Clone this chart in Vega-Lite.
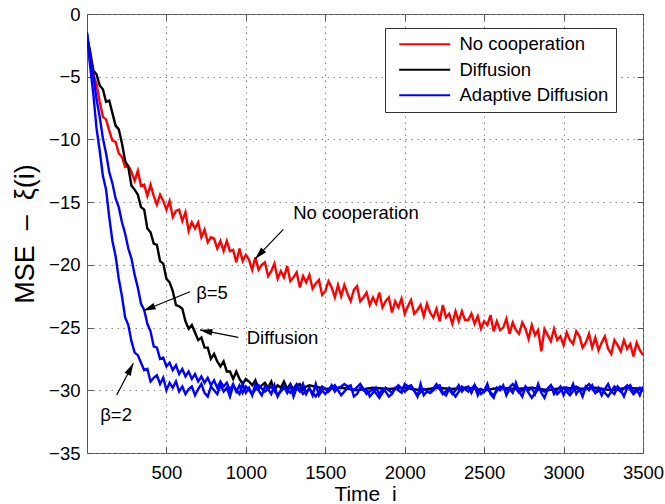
{
"$schema": "https://vega.github.io/schema/vega-lite/v6.json",
"width": 556, "height": 439,
"autosize": {"type": "none"},
"padding": {"left": 87, "top": 14, "right": 22, "bottom": 51},
"background": "white",
"config": {
  "font": "Liberation Sans",
  "view": {"stroke": "#555", "strokeWidth": 1},
  "axis": {"domain": false, "tickSize": -6, "tickColor": "#555", "tickWidth": 1, "labelFontSize": 18.5, "labelColor": "#000", "labelFont": "Liberation Sans", "titleFont": "Liberation Sans", "titleFontWeight": "normal", "titleColor": "#000", "labelFlush": false, "gridColor": "#888", "gridDash": [1.5, 4.5], "gridWidth": 1, "gridOpacity": 1}
},
"datasets": {
  "notes": [
    {"t": "No cooperation", "x": 1693, "y": -15.87},
    {"t": "Diffusion", "x": 1231, "y": -25.83},
    {"t": "β=5", "x": 787, "y": -22.24},
    {"t": "β=2", "x": 183, "y": -31.97}
  ],
  "arrows": [
    {"a": "nc", "x": 1236, "y": -17.17, "x2": 1058, "y2": -19.53},
    {"a": "b5", "x": 648, "y": -22.14, "x2": 354, "y2": -23.66},
    {"a": "df", "x": 952, "y": -25.78, "x2": 711, "y2": -25.19},
    {"a": "b2", "x": 187, "y": -30.38, "x2": 292, "y2": -27.85}
  ]
},
"data": {"values": [
{"s":"r","x":0,"y":-1.8},{"s":"r","x":20,"y":-3.9},{"s":"r","x":40,"y":-4.8},{"s":"r","x":60,"y":-5.6},{"s":"r","x":80,"y":-7.0},{"s":"r","x":100,"y":-8.2},{"s":"r","x":120,"y":-8.4},{"s":"r","x":140,"y":-9.3},{"s":"r","x":160,"y":-10.1},{"s":"r","x":180,"y":-10.2},{"s":"r","x":200,"y":-11.1},{"s":"r","x":220,"y":-11.4},{"s":"r","x":240,"y":-12.2},{"s":"r","x":260,"y":-12.1},{"s":"r","x":280,"y":-12.6},{"s":"r","x":300,"y":-13.3},{"s":"r","x":320,"y":-12.5},{"s":"r","x":340,"y":-13.7},{"s":"r","x":360,"y":-13.6},{"s":"r","x":380,"y":-14.5},{"s":"r","x":400,"y":-13.6},{"s":"r","x":420,"y":-14.5},{"s":"r","x":440,"y":-15.2},{"s":"r","x":460,"y":-14.4},{"s":"r","x":480,"y":-14.9},{"s":"r","x":500,"y":-15.6},{"s":"r","x":520,"y":-14.9},{"s":"r","x":540,"y":-16.2},{"s":"r","x":560,"y":-15.7},{"s":"r","x":580,"y":-15.6},{"s":"r","x":600,"y":-16.5},{"s":"r","x":620,"y":-15.8},{"s":"r","x":640,"y":-17.3},{"s":"r","x":660,"y":-16.6},{"s":"r","x":680,"y":-17.1},{"s":"r","x":700,"y":-16.6},{"s":"r","x":720,"y":-17.8},{"s":"r","x":740,"y":-17.2},{"s":"r","x":760,"y":-18.2},{"s":"r","x":780,"y":-17.8},{"s":"r","x":800,"y":-17.9},{"s":"r","x":820,"y":-18.7},{"s":"r","x":840,"y":-18.1},{"s":"r","x":860,"y":-18.9},{"s":"r","x":880,"y":-18.1},{"s":"r","x":900,"y":-18.9},{"s":"r","x":920,"y":-18.8},{"s":"r","x":940,"y":-19.8},{"s":"r","x":960,"y":-18.7},{"s":"r","x":980,"y":-19.7},{"s":"r","x":1000,"y":-19.2},{"s":"r","x":1020,"y":-19.6},{"s":"r","x":1040,"y":-20.4},{"s":"r","x":1060,"y":-19.4},{"s":"r","x":1080,"y":-20.4},{"s":"r","x":1100,"y":-20.0},{"s":"r","x":1120,"y":-19.8},{"s":"r","x":1140,"y":-20.9},{"s":"r","x":1160,"y":-20.5},{"s":"r","x":1180,"y":-19.9},{"s":"r","x":1200,"y":-21.1},{"s":"r","x":1220,"y":-20.5},{"s":"r","x":1240,"y":-21.0},{"s":"r","x":1260,"y":-20.1},{"s":"r","x":1280,"y":-21.3},{"s":"r","x":1300,"y":-21.0},{"s":"r","x":1320,"y":-20.6},{"s":"r","x":1340,"y":-21.8},{"s":"r","x":1360,"y":-20.9},{"s":"r","x":1380,"y":-21.4},{"s":"r","x":1400,"y":-20.8},{"s":"r","x":1420,"y":-21.9},{"s":"r","x":1440,"y":-21.5},{"s":"r","x":1460,"y":-21.2},{"s":"r","x":1480,"y":-22.4},{"s":"r","x":1500,"y":-22.1},{"s":"r","x":1520,"y":-21.3},{"s":"r","x":1540,"y":-21.8},{"s":"r","x":1560,"y":-22.6},{"s":"r","x":1580,"y":-21.6},{"s":"r","x":1600,"y":-22.5},{"s":"r","x":1620,"y":-21.6},{"s":"r","x":1640,"y":-22.3},{"s":"r","x":1660,"y":-22.9},{"s":"r","x":1680,"y":-22.0},{"s":"r","x":1700,"y":-21.7},{"s":"r","x":1720,"y":-22.9},{"s":"r","x":1740,"y":-22.6},{"s":"r","x":1760,"y":-22.2},{"s":"r","x":1780,"y":-23.2},{"s":"r","x":1800,"y":-22.6},{"s":"r","x":1820,"y":-23.1},{"s":"r","x":1840,"y":-22.2},{"s":"r","x":1860,"y":-23.4},{"s":"r","x":1880,"y":-22.9},{"s":"r","x":1900,"y":-22.6},{"s":"r","x":1920,"y":-23.8},{"s":"r","x":1940,"y":-22.9},{"s":"r","x":1960,"y":-23.4},{"s":"r","x":1980,"y":-22.7},{"s":"r","x":2000,"y":-23.9},{"s":"r","x":2020,"y":-23.3},{"s":"r","x":2040,"y":-22.8},{"s":"r","x":2060,"y":-23.9},{"s":"r","x":2080,"y":-23.6},{"s":"r","x":2100,"y":-23.2},{"s":"r","x":2120,"y":-24.1},{"s":"r","x":2140,"y":-23.1},{"s":"r","x":2160,"y":-23.8},{"s":"r","x":2180,"y":-24.2},{"s":"r","x":2200,"y":-23.5},{"s":"r","x":2220,"y":-24.5},{"s":"r","x":2240,"y":-23.2},{"s":"r","x":2260,"y":-24.2},{"s":"r","x":2280,"y":-23.9},{"s":"r","x":2300,"y":-24.7},{"s":"r","x":2320,"y":-23.7},{"s":"r","x":2340,"y":-24.5},{"s":"r","x":2360,"y":-23.7},{"s":"r","x":2380,"y":-24.4},{"s":"r","x":2400,"y":-24.4},{"s":"r","x":2420,"y":-23.9},{"s":"r","x":2440,"y":-24.7},{"s":"r","x":2460,"y":-24.1},{"s":"r","x":2480,"y":-25.1},{"s":"r","x":2500,"y":-24.5},{"s":"r","x":2520,"y":-24.8},{"s":"r","x":2540,"y":-24.0},{"s":"r","x":2560,"y":-25.3},{"s":"r","x":2580,"y":-24.5},{"s":"r","x":2600,"y":-25.2},{"s":"r","x":2620,"y":-25.0},{"s":"r","x":2640,"y":-24.3},{"s":"r","x":2660,"y":-25.5},{"s":"r","x":2680,"y":-24.6},{"s":"r","x":2700,"y":-25.2},{"s":"r","x":2720,"y":-25.5},{"s":"r","x":2740,"y":-24.6},{"s":"r","x":2760,"y":-25.1},{"s":"r","x":2780,"y":-25.9},{"s":"r","x":2800,"y":-24.8},{"s":"r","x":2820,"y":-25.6},{"s":"r","x":2840,"y":-25.2},{"s":"r","x":2860,"y":-26.9},{"s":"r","x":2880,"y":-25.1},{"s":"r","x":2900,"y":-25.6},{"s":"r","x":2920,"y":-26.1},{"s":"r","x":2940,"y":-25.1},{"s":"r","x":2960,"y":-26.0},{"s":"r","x":2980,"y":-25.7},{"s":"r","x":3000,"y":-26.4},{"s":"r","x":3020,"y":-25.4},{"s":"r","x":3040,"y":-26.0},{"s":"r","x":3060,"y":-26.3},{"s":"r","x":3080,"y":-25.3},{"s":"r","x":3100,"y":-25.7},{"s":"r","x":3120,"y":-26.6},{"s":"r","x":3140,"y":-26.2},{"s":"r","x":3160,"y":-25.5},{"s":"r","x":3180,"y":-26.6},{"s":"r","x":3200,"y":-25.8},{"s":"r","x":3220,"y":-26.8},{"s":"r","x":3240,"y":-26.2},{"s":"r","x":3260,"y":-25.7},{"s":"r","x":3280,"y":-26.7},{"s":"r","x":3300,"y":-27.1},{"s":"r","x":3320,"y":-26.0},{"s":"r","x":3340,"y":-26.4},{"s":"r","x":3360,"y":-26.9},{"s":"r","x":3380,"y":-26.0},{"s":"r","x":3400,"y":-26.7},{"s":"r","x":3420,"y":-26.3},{"s":"r","x":3440,"y":-27.3},{"s":"r","x":3460,"y":-26.2},{"s":"r","x":3480,"y":-26.8},{"s":"r","x":3500,"y":-27.2},
{"s":"k","x":0,"y":-1.8},{"s":"k","x":20,"y":-3.0},{"s":"k","x":40,"y":-4.5},{"s":"k","x":60,"y":-4.8},{"s":"k","x":80,"y":-5.7},{"s":"k","x":100,"y":-6.0},{"s":"k","x":120,"y":-7.0},{"s":"k","x":140,"y":-6.9},{"s":"k","x":160,"y":-7.9},{"s":"k","x":180,"y":-8.9},{"s":"k","x":200,"y":-9.2},{"s":"k","x":220,"y":-10.3},{"s":"k","x":240,"y":-11.7},{"s":"k","x":260,"y":-12.2},{"s":"k","x":280,"y":-13.7},{"s":"k","x":300,"y":-14.0},{"s":"k","x":320,"y":-14.4},{"s":"k","x":340,"y":-15.4},{"s":"k","x":360,"y":-15.6},{"s":"k","x":380,"y":-17.1},{"s":"k","x":400,"y":-17.4},{"s":"k","x":420,"y":-18.3},{"s":"k","x":440,"y":-18.4},{"s":"k","x":460,"y":-19.7},{"s":"k","x":480,"y":-19.9},{"s":"k","x":500,"y":-21.1},{"s":"k","x":520,"y":-21.4},{"s":"k","x":540,"y":-22.1},{"s":"k","x":560,"y":-23.2},{"s":"k","x":580,"y":-23.3},{"s":"k","x":600,"y":-23.5},{"s":"k","x":620,"y":-24.5},{"s":"k","x":640,"y":-25.1},{"s":"k","x":660,"y":-24.8},{"s":"k","x":680,"y":-25.4},{"s":"k","x":700,"y":-26.0},{"s":"k","x":720,"y":-25.8},{"s":"k","x":740,"y":-26.6},{"s":"k","x":760,"y":-26.6},{"s":"k","x":780,"y":-27.5},{"s":"k","x":800,"y":-27.1},{"s":"k","x":820,"y":-27.7},{"s":"k","x":840,"y":-28.1},{"s":"k","x":860,"y":-27.7},{"s":"k","x":880,"y":-28.5},{"s":"k","x":900,"y":-28.5},{"s":"k","x":920,"y":-29.1},{"s":"k","x":940,"y":-28.5},{"s":"k","x":960,"y":-29.1},{"s":"k","x":980,"y":-29.5},{"s":"k","x":1000,"y":-29.1},{"s":"k","x":1020,"y":-29.3},{"s":"k","x":1040,"y":-29.6},{"s":"k","x":1060,"y":-29.2},{"s":"k","x":1080,"y":-29.9},{"s":"k","x":1100,"y":-29.6},{"s":"k","x":1120,"y":-29.4},{"s":"k","x":1140,"y":-29.8},{"s":"k","x":1160,"y":-29.3},{"s":"k","x":1180,"y":-30.0},{"s":"k","x":1200,"y":-29.6},{"s":"k","x":1220,"y":-29.8},{"s":"k","x":1240,"y":-29.3},{"s":"k","x":1260,"y":-29.9},{"s":"k","x":1280,"y":-29.5},{"s":"k","x":1300,"y":-30.0},{"s":"k","x":1320,"y":-29.6},{"s":"k","x":1340,"y":-29.5},{"s":"k","x":1360,"y":-30.0},{"s":"k","x":1380,"y":-29.7},{"s":"k","x":1400,"y":-29.6},{"s":"k","x":1500,"y":-29.9},{"s":"k","x":1600,"y":-29.8},{"s":"k","x":1700,"y":-30.0},{"s":"k","x":1800,"y":-29.8},{"s":"k","x":1900,"y":-29.9},{"s":"k","x":2000,"y":-29.8},{"s":"k","x":2100,"y":-30.0},{"s":"k","x":2200,"y":-29.8},{"s":"k","x":2300,"y":-29.9},{"s":"k","x":2400,"y":-29.8},{"s":"k","x":2500,"y":-30.0},{"s":"k","x":2600,"y":-29.8},{"s":"k","x":2700,"y":-29.9},{"s":"k","x":2800,"y":-29.8},{"s":"k","x":2900,"y":-30.0},{"s":"k","x":3000,"y":-29.8},{"s":"k","x":3100,"y":-29.9},{"s":"k","x":3200,"y":-29.8},{"s":"k","x":3300,"y":-30.0},{"s":"k","x":3400,"y":-29.8},{"s":"k","x":3500,"y":-29.9},
{"s":"b5","x":0,"y":-1.5},{"s":"b5","x":20,"y":-3.3},{"s":"b5","x":40,"y":-4.9},{"s":"b5","x":60,"y":-6.8},{"s":"b5","x":80,"y":-8.2},{"s":"b5","x":100,"y":-9.9},{"s":"b5","x":120,"y":-11.1},{"s":"b5","x":140,"y":-12.6},{"s":"b5","x":160,"y":-13.5},{"s":"b5","x":180,"y":-14.7},{"s":"b5","x":200,"y":-15.4},{"s":"b5","x":220,"y":-16.6},{"s":"b5","x":240,"y":-17.5},{"s":"b5","x":260,"y":-18.7},{"s":"b5","x":280,"y":-19.5},{"s":"b5","x":300,"y":-20.8},{"s":"b5","x":320,"y":-21.8},{"s":"b5","x":340,"y":-23.1},{"s":"b5","x":360,"y":-23.6},{"s":"b5","x":380,"y":-24.7},{"s":"b5","x":400,"y":-25.3},{"s":"b5","x":420,"y":-26.5},{"s":"b5","x":440,"y":-26.6},{"s":"b5","x":460,"y":-27.5},{"s":"b5","x":480,"y":-27.4},{"s":"b5","x":500,"y":-28.1},{"s":"b5","x":520,"y":-27.8},{"s":"b5","x":540,"y":-28.4},{"s":"b5","x":560,"y":-28.0},{"s":"b5","x":580,"y":-28.7},{"s":"b5","x":600,"y":-28.3},{"s":"b5","x":620,"y":-28.9},{"s":"b5","x":640,"y":-28.5},{"s":"b5","x":660,"y":-29.1},{"s":"b5","x":680,"y":-28.7},{"s":"b5","x":700,"y":-29.3},{"s":"b5","x":720,"y":-28.9},{"s":"b5","x":740,"y":-29.4},{"s":"b5","x":760,"y":-29.0},{"s":"b5","x":780,"y":-29.6},{"s":"b5","x":800,"y":-29.2},{"s":"b5","x":820,"y":-29.8},{"s":"b5","x":840,"y":-29.3},{"s":"b5","x":860,"y":-29.7},{"s":"b5","x":880,"y":-29.4},{"s":"b5","x":900,"y":-30.0},{"s":"b5","x":920,"y":-29.5},{"s":"b5","x":940,"y":-30.1},{"s":"b5","x":960,"y":-29.6},{"s":"b5","x":980,"y":-30.2},{"s":"b5","x":1000,"y":-29.7},{"s":"b5","x":1040,"y":-30.3},{"s":"b5","x":1080,"y":-29.6},{"s":"b5","x":1120,"y":-30.1},{"s":"b5","x":1160,"y":-29.7},{"s":"b5","x":1200,"y":-30.4},{"s":"b5","x":1240,"y":-29.8},{"s":"b5","x":1280,"y":-30.2},{"s":"b5","x":1320,"y":-29.5},{"s":"b5","x":1360,"y":-30.3},{"s":"b5","x":1400,"y":-29.9},{"s":"b5","x":1440,"y":-30.5},{"s":"b5","x":1480,"y":-29.7},{"s":"b5","x":1520,"y":-30.1},{"s":"b5","x":1560,"y":-29.6},{"s":"b5","x":1600,"y":-30.4},{"s":"b5","x":1640,"y":-29.8},{"s":"b5","x":1680,"y":-30.0},{"s":"b5","x":1720,"y":-29.5},{"s":"b5","x":1760,"y":-30.3},{"s":"b5","x":1800,"y":-29.9},{"s":"b5","x":1840,"y":-30.6},{"s":"b5","x":1880,"y":-29.8},{"s":"b5","x":1920,"y":-30.2},{"s":"b5","x":1960,"y":-29.6},{"s":"b5","x":2000,"y":-30.1},{"s":"b5","x":2040,"y":-29.7},{"s":"b5","x":2080,"y":-30.4},{"s":"b5","x":2120,"y":-29.9},{"s":"b5","x":2160,"y":-30.2},{"s":"b5","x":2200,"y":-29.5},{"s":"b5","x":2240,"y":-30.3},{"s":"b5","x":2280,"y":-29.8},{"s":"b5","x":2320,"y":-30.5},{"s":"b5","x":2360,"y":-29.7},{"s":"b5","x":2400,"y":-30.1},{"s":"b5","x":2440,"y":-29.6},{"s":"b5","x":2480,"y":-30.3},{"s":"b5","x":2520,"y":-29.9},{"s":"b5","x":2560,"y":-30.4},{"s":"b5","x":2600,"y":-29.7},{"s":"b5","x":2640,"y":-30.0},{"s":"b5","x":2680,"y":-29.5},{"s":"b5","x":2720,"y":-30.2},{"s":"b5","x":2760,"y":-29.8},{"s":"b5","x":2800,"y":-30.6},{"s":"b5","x":2840,"y":-29.9},{"s":"b5","x":2880,"y":-30.1},{"s":"b5","x":2920,"y":-29.6},{"s":"b5","x":2960,"y":-30.3},{"s":"b5","x":3000,"y":-29.8},{"s":"b5","x":3040,"y":-30.4},{"s":"b5","x":3080,"y":-29.7},{"s":"b5","x":3120,"y":-30.0},{"s":"b5","x":3160,"y":-29.5},{"s":"b5","x":3200,"y":-30.2},{"s":"b5","x":3240,"y":-29.9},{"s":"b5","x":3280,"y":-30.5},{"s":"b5","x":3320,"y":-29.7},{"s":"b5","x":3360,"y":-30.1},{"s":"b5","x":3400,"y":-29.6},{"s":"b5","x":3440,"y":-30.3},{"s":"b5","x":3480,"y":-29.8},{"s":"b5","x":3500,"y":-30.1},
{"s":"b2","x":0,"y":-1.5},{"s":"b2","x":20,"y":-4.2},{"s":"b2","x":40,"y":-6.4},{"s":"b2","x":60,"y":-9.1},{"s":"b2","x":80,"y":-10.9},{"s":"b2","x":100,"y":-12.9},{"s":"b2","x":120,"y":-14.0},{"s":"b2","x":140,"y":-16.2},{"s":"b2","x":160,"y":-18.1},{"s":"b2","x":180,"y":-19.3},{"s":"b2","x":200,"y":-21.1},{"s":"b2","x":220,"y":-22.5},{"s":"b2","x":240,"y":-24.2},{"s":"b2","x":260,"y":-24.8},{"s":"b2","x":280,"y":-26.1},{"s":"b2","x":300,"y":-27.0},{"s":"b2","x":320,"y":-27.2},{"s":"b2","x":340,"y":-27.8},{"s":"b2","x":360,"y":-28.4},{"s":"b2","x":380,"y":-28.3},{"s":"b2","x":400,"y":-29.3},{"s":"b2","x":420,"y":-29.0},{"s":"b2","x":440,"y":-28.8},{"s":"b2","x":460,"y":-29.5},{"s":"b2","x":480,"y":-29.0},{"s":"b2","x":500,"y":-30.0},{"s":"b2","x":520,"y":-29.4},{"s":"b2","x":540,"y":-29.8},{"s":"b2","x":560,"y":-29.3},{"s":"b2","x":580,"y":-30.1},{"s":"b2","x":600,"y":-29.7},{"s":"b2","x":620,"y":-30.3},{"s":"b2","x":640,"y":-29.9},{"s":"b2","x":660,"y":-29.7},{"s":"b2","x":680,"y":-30.4},{"s":"b2","x":700,"y":-29.9},{"s":"b2","x":720,"y":-29.5},{"s":"b2","x":740,"y":-30.2},{"s":"b2","x":760,"y":-30.5},{"s":"b2","x":780,"y":-29.7},{"s":"b2","x":800,"y":-30.0},{"s":"b2","x":820,"y":-30.3},{"s":"b2","x":840,"y":-29.6},{"s":"b2","x":860,"y":-30.1},{"s":"b2","x":880,"y":-29.8},{"s":"b2","x":900,"y":-30.5},{"s":"b2","x":920,"y":-29.6},{"s":"b2","x":940,"y":-30.0},{"s":"b2","x":960,"y":-30.3},{"s":"b2","x":980,"y":-29.5},{"s":"b2","x":1000,"y":-30.2},{"s":"b2","x":1020,"y":-29.8},{"s":"b2","x":1040,"y":-30.4},{"s":"b2","x":1060,"y":-29.5},{"s":"b2","x":1080,"y":-30.0},{"s":"b2","x":1100,"y":-30.4},{"s":"b2","x":1120,"y":-29.7},{"s":"b2","x":1140,"y":-29.9},{"s":"b2","x":1160,"y":-30.3},{"s":"b2","x":1180,"y":-29.6},{"s":"b2","x":1200,"y":-30.5},{"s":"b2","x":1220,"y":-30.0},{"s":"b2","x":1240,"y":-29.7},{"s":"b2","x":1260,"y":-30.2},{"s":"b2","x":1280,"y":-29.6},{"s":"b2","x":1300,"y":-30.5},{"s":"b2","x":1320,"y":-29.8},{"s":"b2","x":1340,"y":-30.1},{"s":"b2","x":1360,"y":-29.5},{"s":"b2","x":1380,"y":-30.3},{"s":"b2","x":1400,"y":-29.8},{"s":"b2","x":1420,"y":-30.4},{"s":"b2","x":1440,"y":-29.5},{"s":"b2","x":1460,"y":-30.4},{"s":"b2","x":1480,"y":-30.0},{"s":"b2","x":1500,"y":-30.3},{"s":"b2","x":1520,"y":-30.0},{"s":"b2","x":1540,"y":-29.6},{"s":"b2","x":1560,"y":-30.1},{"s":"b2","x":1580,"y":-29.8},{"s":"b2","x":1600,"y":-29.7},{"s":"b2","x":1620,"y":-29.5},{"s":"b2","x":1640,"y":-29.7},{"s":"b2","x":1660,"y":-29.6},{"s":"b2","x":1680,"y":-30.5},{"s":"b2","x":1700,"y":-30.3},{"s":"b2","x":1720,"y":-29.8},{"s":"b2","x":1740,"y":-30.0},{"s":"b2","x":1760,"y":-29.9},{"s":"b2","x":1780,"y":-30.5},{"s":"b2","x":1800,"y":-30.2},{"s":"b2","x":1820,"y":-29.8},{"s":"b2","x":1840,"y":-30.3},{"s":"b2","x":1860,"y":-29.9},{"s":"b2","x":1880,"y":-30.1},{"s":"b2","x":1900,"y":-30.5},{"s":"b2","x":1920,"y":-30.3},{"s":"b2","x":1940,"y":-29.8},{"s":"b2","x":1960,"y":-30.0},{"s":"b2","x":1980,"y":-30.2},{"s":"b2","x":2000,"y":-29.5},{"s":"b2","x":2020,"y":-29.7},{"s":"b2","x":2040,"y":-29.6},{"s":"b2","x":2060,"y":-30.0},{"s":"b2","x":2080,"y":-30.5},{"s":"b2","x":2100,"y":-29.5},{"s":"b2","x":2120,"y":-30.4},{"s":"b2","x":2140,"y":-30.1},{"s":"b2","x":2160,"y":-30.2},{"s":"b2","x":2180,"y":-30.0},{"s":"b2","x":2200,"y":-29.7},{"s":"b2","x":2220,"y":-29.6},{"s":"b2","x":2240,"y":-30.2},{"s":"b2","x":2260,"y":-30.4},{"s":"b2","x":2280,"y":-29.9},{"s":"b2","x":2300,"y":-30.3},{"s":"b2","x":2320,"y":-30.0},{"s":"b2","x":2340,"y":-29.6},{"s":"b2","x":2360,"y":-30.1},{"s":"b2","x":2380,"y":-29.8},{"s":"b2","x":2400,"y":-29.7},{"s":"b2","x":2420,"y":-30.2},{"s":"b2","x":2440,"y":-29.6},{"s":"b2","x":2460,"y":-30.4},{"s":"b2","x":2480,"y":-29.9},{"s":"b2","x":2500,"y":-30.1},{"s":"b2","x":2520,"y":-29.5},{"s":"b2","x":2540,"y":-30.3},{"s":"b2","x":2560,"y":-30.6},{"s":"b2","x":2580,"y":-29.8},{"s":"b2","x":2600,"y":-30.0},{"s":"b2","x":2620,"y":-29.6},{"s":"b2","x":2640,"y":-30.4},{"s":"b2","x":2660,"y":-29.9},{"s":"b2","x":2680,"y":-30.2},{"s":"b2","x":2700,"y":-29.4},{"s":"b2","x":2720,"y":-30.1},{"s":"b2","x":2740,"y":-30.5},{"s":"b2","x":2760,"y":-29.7},{"s":"b2","x":2780,"y":-30.0},{"s":"b2","x":2800,"y":-29.8},{"s":"b2","x":2820,"y":-30.3},{"s":"b2","x":2840,"y":-29.5},{"s":"b2","x":2860,"y":-30.2},{"s":"b2","x":2880,"y":-30.6},{"s":"b2","x":2900,"y":-29.9},{"s":"b2","x":2920,"y":-29.6},{"s":"b2","x":2940,"y":-30.3},{"s":"b2","x":2960,"y":-30.0},{"s":"b2","x":2980,"y":-29.7},{"s":"b2","x":3000,"y":-30.4},{"s":"b2","x":3020,"y":-29.8},{"s":"b2","x":3040,"y":-30.1},{"s":"b2","x":3060,"y":-29.5},{"s":"b2","x":3080,"y":-30.3},{"s":"b2","x":3100,"y":-29.9},{"s":"b2","x":3120,"y":-30.5},{"s":"b2","x":3140,"y":-29.7},{"s":"b2","x":3160,"y":-30.0},{"s":"b2","x":3180,"y":-29.6},{"s":"b2","x":3200,"y":-30.2},{"s":"b2","x":3220,"y":-29.8},{"s":"b2","x":3240,"y":-30.4},{"s":"b2","x":3260,"y":-29.9},{"s":"b2","x":3280,"y":-29.5},{"s":"b2","x":3300,"y":-30.1},{"s":"b2","x":3320,"y":-30.3},{"s":"b2","x":3340,"y":-29.7},{"s":"b2","x":3360,"y":-30.0},{"s":"b2","x":3380,"y":-30.5},{"s":"b2","x":3400,"y":-29.8},{"s":"b2","x":3420,"y":-29.6},{"s":"b2","x":3440,"y":-30.2},{"s":"b2","x":3460,"y":-29.9},{"s":"b2","x":3480,"y":-30.4},{"s":"b2","x":3500,"y":-29.7}
]},
"layer": [
  {"transform": [{"filter": "datum.s=='r'"}],
   "mark": {"type": "line", "strokeWidth": 2.4, "clip": true},
   "encoding": {
     "x": {"field": "x", "type": "quantitative", "scale": {"domain": [0, 3500], "nice": false, "zero": false},
           "axis": {"orient": "bottom", "values": [500, 1000, 1500, 2000, 2500, 3000, 3500], "format": "d", "grid": true, "labelPadding": 16.6, "title": "Time\u00a0\u00a0i", "titleFontSize": 21, "titlePadding": 1}},
     "y": {"field": "y", "type": "quantitative", "scale": {"domain": [-35, 0], "nice": false, "zero": false},
           "axis": {"orient": "left", "values": [-35, -30, -25, -20, -15, -10, -5, 0], "grid": true, "labelPadding": 13, "title": "MSE\u00a0\u00a0–\u00a0\u00a0ξ(i)", "titleFontSize": 27, "titlePadding": 9}},
     "color": {"field": "s", "type": "nominal", "scale": {"domain": ["r", "k", "b2", "b5"], "range": ["#ff0000", "#000000", "#0000ff", "#0000ff"]},
       "legend": {"values": ["r", "k", "b2"], "labelExpr": "datum.value=='r' ? 'No cooperation' : datum.value=='k' ? 'Diffusion' : 'Adaptive Diffusion'", "title": null, "orient": "none", "legendX": 298, "legendY": 14, "padding": 7, "rowPadding": 6.5, "symbolType": "M-0.4,0L9.6,0", "symbolSize": 104, "symbolStrokeWidth": 2, "labelOffset": 49, "labelFontSize": 18.5, "labelFont": "Liberation Sans", "labelColor": "#000", "labelLimit": 300, "strokeColor": "#333", "fillColor": "#ffffff"}}
   }},
  {"transform": [{"filter": "datum.s=='k'"}],
   "mark": {"type": "line", "strokeWidth": 2.4, "clip": true},
   "encoding": {
     "x": {"field": "x", "type": "quantitative", "scale": {"domain": [0, 3500], "nice": false, "zero": false},
           "axis": {"orient": "top", "values": [500, 1000, 1500, 2000, 2500, 3000, 3500], "grid": false, "labels": false, "title": null}},
     "y": {"field": "y", "type": "quantitative", "scale": {"domain": [-35, 0], "nice": false, "zero": false},
           "axis": {"orient": "right", "values": [-35, -30, -25, -20, -15, -10, -5, 0], "grid": false, "labels": false, "title": null}},
     "color": {"field": "s", "type": "nominal", "scale": {"domain": ["r", "k", "b2", "b5"], "range": ["#ff0000", "#000000", "#0000ff", "#0000ff"]},
       "legend": {"values": ["r", "k", "b2"], "labelExpr": "datum.value=='r' ? 'No cooperation' : datum.value=='k' ? 'Diffusion' : 'Adaptive Diffusion'", "title": null, "orient": "none", "legendX": 298, "legendY": 14, "padding": 7, "rowPadding": 6.5, "symbolType": "M-0.4,0L9.6,0", "symbolSize": 104, "symbolStrokeWidth": 2, "labelOffset": 49, "labelFontSize": 18.5, "labelFont": "Liberation Sans", "labelColor": "#000", "labelLimit": 300, "strokeColor": "#333", "fillColor": "#ffffff"}}
   }},
  {"transform": [{"filter": "datum.s=='b2' || datum.s=='b5'"}],
   "mark": {"type": "line", "strokeWidth": 2.4, "clip": true},
   "encoding": {
     "x": {"field": "x", "type": "quantitative", "scale": {"domain": [0, 3500], "nice": false, "zero": false}, "axis": null},
     "y": {"field": "y", "type": "quantitative", "scale": {"domain": [-35, 0], "nice": false, "zero": false}, "axis": null},
     "color": {"field": "s", "type": "nominal", "scale": {"domain": ["r", "k", "b2", "b5"], "range": ["#ff0000", "#000000", "#0000ff", "#0000ff"]},
       "legend": {"values": ["r", "k", "b2"], "labelExpr": "datum.value=='r' ? 'No cooperation' : datum.value=='k' ? 'Diffusion' : 'Adaptive Diffusion'", "title": null, "orient": "none", "legendX": 298, "legendY": 14, "padding": 7, "rowPadding": 6.5, "symbolType": "M-0.4,0L9.6,0", "symbolSize": 104, "symbolStrokeWidth": 2, "labelOffset": 49, "labelFontSize": 18.5, "labelFont": "Liberation Sans", "labelColor": "#000", "labelLimit": 300, "strokeColor": "#333", "fillColor": "#ffffff"}}
   }},
  {"data": {"name": "arrows"},
   "mark": {"type": "rule", "color": "#000", "strokeWidth": 1.2},
   "encoding": {
     "x": {"field": "x", "type": "quantitative", "scale": {"domain": [0, 3500], "nice": false, "zero": false}, "axis": null},
     "y": {"field": "y", "type": "quantitative", "scale": {"domain": [-35, 0], "nice": false, "zero": false}, "axis": null},
     "x2": {"field": "x2"}, "y2": {"field": "y2"}
   }},
  {"data": {"name": "arrows"}, "transform": [{"filter": "datum.a=='nc'"}],
   "mark": {"type": "point", "shape": "M0,0L-0.5,1.8L0.5,1.8Z", "filled": true, "color": "#000", "opacity": 1, "size": 190, "angle": 223.6},
   "encoding": {
     "x": {"field": "x2", "type": "quantitative", "scale": {"domain": [0, 3500], "nice": false, "zero": false}, "axis": null},
     "y": {"field": "y2", "type": "quantitative", "scale": {"domain": [-35, 0], "nice": false, "zero": false}, "axis": null}
   }},
  {"data": {"name": "arrows"}, "transform": [{"filter": "datum.a=='b5'"}],
   "mark": {"type": "point", "shape": "M0,0L-0.5,1.8L0.5,1.8Z", "filled": true, "color": "#000", "opacity": 1, "size": 190, "angle": 247.9},
   "encoding": {
     "x": {"field": "x2", "type": "quantitative", "scale": {"domain": [0, 3500], "nice": false, "zero": false}, "axis": null},
     "y": {"field": "y2", "type": "quantitative", "scale": {"domain": [-35, 0], "nice": false, "zero": false}, "axis": null}
   }},
  {"data": {"name": "arrows"}, "transform": [{"filter": "datum.a=='df'"}],
   "mark": {"type": "point", "shape": "M0,0L-0.5,1.8L0.5,1.8Z", "filled": true, "color": "#000", "opacity": 1, "size": 190, "angle": 280.8},
   "encoding": {
     "x": {"field": "x2", "type": "quantitative", "scale": {"domain": [0, 3500], "nice": false, "zero": false}, "axis": null},
     "y": {"field": "y2", "type": "quantitative", "scale": {"domain": [-35, 0], "nice": false, "zero": false}, "axis": null}
   }},
  {"data": {"name": "arrows"}, "transform": [{"filter": "datum.a=='b2'"}],
   "mark": {"type": "point", "shape": "M0,0L-0.5,1.8L0.5,1.8Z", "filled": true, "color": "#000", "opacity": 1, "size": 190, "angle": 27.7},
   "encoding": {
     "x": {"field": "x2", "type": "quantitative", "scale": {"domain": [0, 3500], "nice": false, "zero": false}, "axis": null},
     "y": {"field": "y2", "type": "quantitative", "scale": {"domain": [-35, 0], "nice": false, "zero": false}, "axis": null}
   }},
  {"data": {"name": "notes"},
   "mark": {"type": "text", "fontSize": 18.5, "font": "Liberation Sans", "color": "#000", "align": "center", "baseline": "middle"},
   "encoding": {
     "x": {"field": "x", "type": "quantitative", "scale": {"domain": [0, 3500], "nice": false, "zero": false}, "axis": null},
     "y": {"field": "y", "type": "quantitative", "scale": {"domain": [-35, 0], "nice": false, "zero": false}, "axis": null},
     "text": {"field": "t", "type": "nominal"}
   }}
],
"resolve": {"axis": {"x": "independent", "y": "independent"}}
}
